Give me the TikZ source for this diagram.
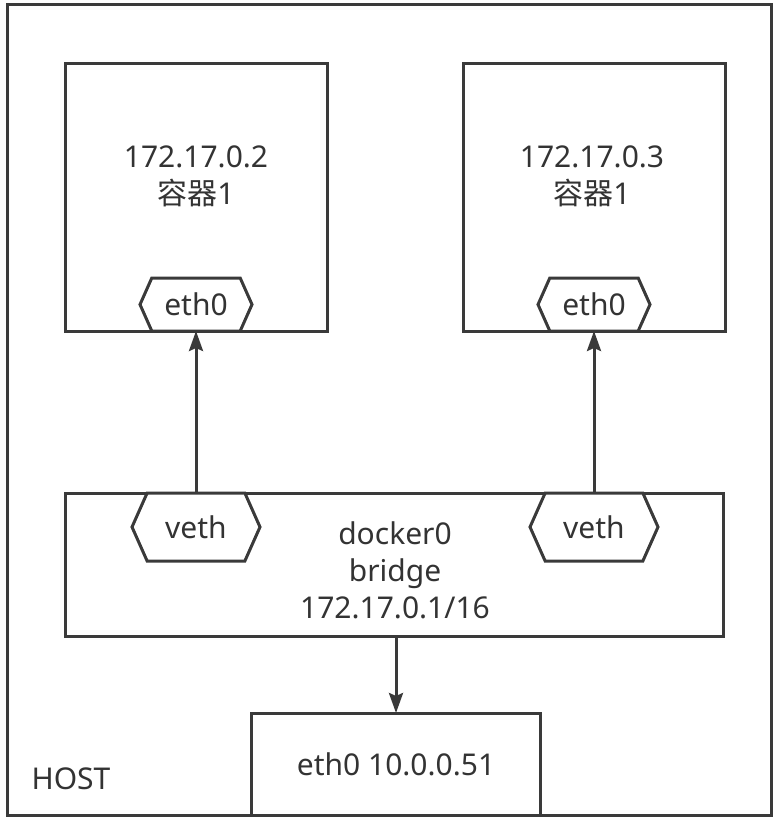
\documentclass[tikz,border=0pt]{standalone}
\usepackage{fontspec}
\setmainfont{Noto Sans}
\newfontfamily\cjk{Noto Sans CJK SC}
\usepackage{tikz}
\usetikzlibrary{arrows.meta, positioning, shapes.symbols}
\definecolor{linegray}{HTML}{3A3A3A}
\definecolor{textgray}{HTML}{333333}

\begin{document}
\begin{tikzpicture}[x=1pt, y=-1pt, >={Stealth[length=20pt,width=14pt,inset=3pt]},
    box/.style={draw=linegray, line width=3pt, rectangle, inner sep=0pt, outer sep=0pt},
    port/.style={draw=linegray, line width=3pt, fill=white, signal, signal to=west and east,
      signal pointer angle=132, inner sep=0pt, outer sep=0pt},
    link/.style={->, draw=linegray, fill=linegray, line width=3pt},
    txt/.style={align=center, text=textgray, font=\fontsize{30}{37}\selectfont}]
      \useasboundingbox (0,0) rectangle (778,821);

      % Host
      \node[box, minimum width=764, minimum height=810] (host) at (389,410) {};
      \node[txt, anchor=west] (hostname) at (28,779) {HOST};

      % Containers
      \node[box, minimum width=262, minimum height=267] (c1) at (196,197.5) {};
      \node[box, minimum width=262, minimum height=267] (c2) at (594,197.5) {};
      \node[txt] (c1text) at (196,176) {172.17.0.2\\{\cjk 容器}1};
      \node[txt] (c2text) at (592,176) {172.17.0.3\\{\cjk 容器}1};
      \node[port, txt, minimum width=112, minimum height=53, anchor=south]
            (c1eth) at (c1.south) {eth0};
      \node[port, txt, minimum width=112, minimum height=53, anchor=south]
            (c2eth) at (c2.south) {eth0};

      % Bridge
      \node[box, minimum width=658, minimum height=143] (bridge) at (394,564.5) {};
      \node[txt] (bridgetext) at (395,570) {docker0\\bridge\\172.17.0.1/16};
      \node[port, txt, minimum width=128, minimum height=68, anchor=north]
            (veth1) at (bridge.north -| c1eth) {veth};
      \node[port, txt, minimum width=128, minimum height=68, anchor=north]
            (veth2) at (bridge.north -| c2eth) {veth};

      % Host eth0
      \node[box, minimum width=289, minimum height=102] (hosteth) at (396,764) {};
      \node[txt] (hostethtext) at (hosteth.center) {eth0 10.0.0.51};

      % Links
      \draw[link] (veth1.north) -- (c1eth.south);
      \draw[link] (veth2.north) -- (c2eth.south);
      \draw[link] (bridge.south -| hosteth.north) -- (hosteth.north);
\end{tikzpicture}
\end{document}
